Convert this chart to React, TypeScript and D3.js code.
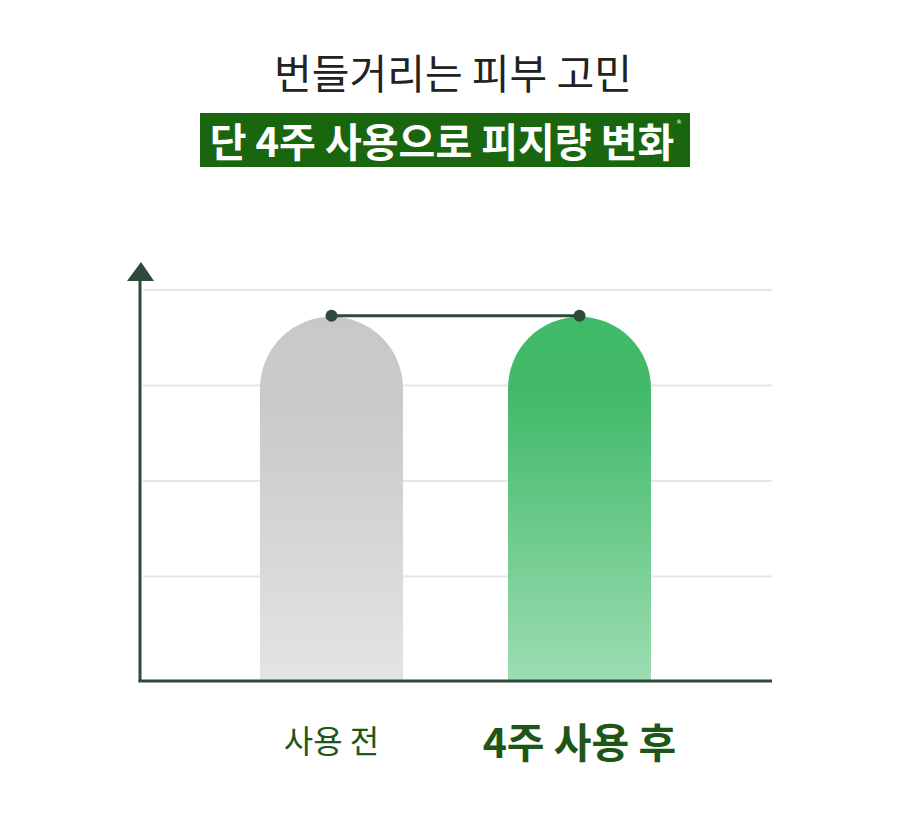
import React from "react";
import * as d3 from "d3";

const categories = ["사용 전", "4주 사용 후"];
const values = [93, 93];
const gridTicks = [25, 50, 75, 100];
const titleLine1 = "번들거리는 피부 고민";
const titleLine2 = "단 4주 사용으로 피지량 변화";

const W = 900;
const H = 813;
const FONT = "'Noto Sans CJK KR', 'Noto Sans', sans-serif";

export default function App() {
  const axisX = 140;
  const baseY = 681;
  const x = d3.scalePoint<string>().domain(categories).range([331.5, 579.5]);
  const y = d3.scaleLinear().domain([0, 100]).range([672, 290]);
  const bw = 143;
  const r = bw / 2;

  const barPath = (cx: number, top: number) => {
    const l = cx - r;
    const rr = cx + r;
    return `M${l},${baseY - 1} L${l},${top + r} A${r},${r} 0 0 1 ${rr},${top + r} L${rr},${baseY - 1} Z`;
  };

  const line = d3.line<number>()
    .x((_, i) => x(categories[i]) as number)
    .y((v) => y(v) - 1);

  return (
    <svg width={W} height={H} style={{ display: "block", position: "absolute", left: 0, top: 0 }}>
      <defs>
        <linearGradient id="gGray" x1="0" y1="0" x2="0" y2="1">
          <stop offset="0%" stopColor="#c8c8c8" />
          <stop offset="30%" stopColor="#cbcbcb" />
          <stop offset="100%" stopColor="#e4e4e4" />
        </linearGradient>
        <linearGradient id="gGreen" x1="0" y1="0" x2="0" y2="1">
          <stop offset="0%" stopColor="#40b968" />
          <stop offset="22%" stopColor="#42ba6a" />
          <stop offset="100%" stopColor="#9cddb2" />
        </linearGradient>
      </defs>
      <rect width={W} height={H} fill="#ffffff" />

      <text x={453} y={89} textAnchor="middle" fontFamily={FONT} fontSize={41} fill="#222222" fontWeight={400}>
        {titleLine1}
      </text>
      <rect x={200} y={113} width={490} height={54} fill="#19660f" />
      <text x={442} y={157} textAnchor="middle" fontFamily={FONT} fontSize={40} fill="#ffffff" fontWeight={700}>
        {titleLine2}
      </text>
      <text x={679} y={131} textAnchor="middle" fontFamily={FONT} fontSize={15} fill="#a9c8a4">*</text>

      {gridTicks.map((t) => (
        <line key={t} x1={axisX + 3} x2={772} y1={y(t)} y2={y(t)} stroke="#e6e6e6" strokeWidth={2} />
      ))}

      {categories.map((c, i) => (
        <path key={c} d={barPath(x(c) as number, y(values[i]))} fill={i === 0 ? "url(#gGray)" : "url(#gGreen)"} />
      ))}

      <line x1={axisX} x2={axisX} y1={278} y2={baseY + 1} stroke="#2e4a3b" strokeWidth={3} />
      <line x1={axisX - 1.5} x2={772} y1={baseY} y2={baseY} stroke="#2e4a3b" strokeWidth={3} />
      <path d={`M${axisX + 1},${262} L${axisX + 14},${281} L${axisX - 13},${281} Z`} fill="#2e4a3b" />

      <path d={line(values) || ""} fill="none" stroke="#2e4a3b" strokeWidth={3} />
      {categories.map((c, i) => (
        <circle key={c} cx={x(c) as number} cy={y(values[i]) - 1} r={6} fill="#2e4a3b" />
      ))}

      <text x={x(categories[0]) as number} y={753} textAnchor="middle" fontFamily={FONT} fontSize={32} fill="#1d5617" fontWeight={400}>
        {categories[0]}
      </text>
      <text x={x(categories[1]) as number} y={758} textAnchor="middle" fontFamily={FONT} fontSize={41} fill="#1d5617" fontWeight={700}>
        {categories[1]}
      </text>
    </svg>
  );
}
